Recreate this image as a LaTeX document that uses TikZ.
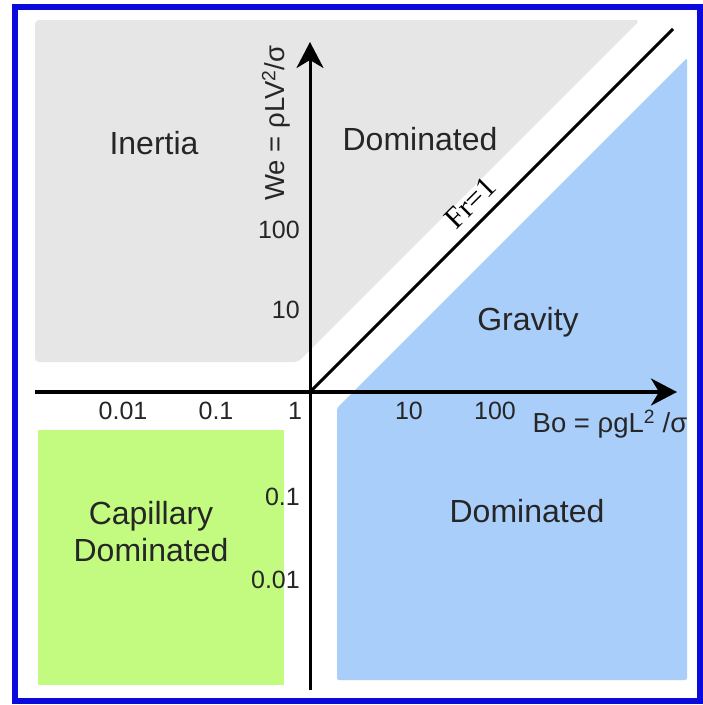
\documentclass[tikz,border=0pt]{standalone}
\usepackage{fontspec}
\setmainfont{Liberation Sans}
\newfontfamily\frfont{Liberation Serif}
\usetikzlibrary{arrows.meta}
\definecolor{frameblue}{HTML}{0A0ADC}
\definecolor{inertgray}{HTML}{E6E6E6}
\definecolor{gravblue}{HTML}{A9CEFA}
\definecolor{capgreen}{HTML}{C3FB80}
\definecolor{labelgray}{HTML}{262626}
\tikzstyle{regionlabel} = [text=labelgray, font=\fontsize{32}{37}\selectfont, align=center, inner sep=0pt]
\tikzstyle{ticklabel} = [text=labelgray, font=\fontsize{25}{30}\selectfont, inner sep=0pt]
\tikzstyle{axislabel} = [text=labelgray, font=\fontsize{27.5}{32}\selectfont, inner sep=0pt]
\tikzstyle{axisline} = [line width=3.5pt, -{Stealth[length=26pt, width=27pt, inset=8pt]}]

\begin{document}
\begin{tikzpicture}[x=1pt, y=-1pt]
  \useasboundingbox (0,0) rectangle (703,705);
  \fill[white] (0,0) rectangle (703,705);

  % Regions
  \fill[inertgray, rounded corners=4pt] (35,20) -- (640,20) -- (298,362) -- (35,362) -- cycle;
  \fill[gravblue, rounded corners=2pt] (337,680) -- (687,680) -- (687,58) -- (352,393) -- (337,408) -- cycle;
  \fill[capgreen] (38,430) rectangle (284,685);

  % Frame
  \draw[frameblue, line width=6pt] (15,6.5) rectangle (700,701);

  % Axes
  \coordinate (origin) at (310,392);
  \coordinate (xstart) at (35,392);
  \coordinate (xend) at (677,392);
  \coordinate (ystart) at (310,690);
  \coordinate (yend) at (310,42);
  \coordinate (frtop) at (673,29);
  \draw[axisline] (xstart) -- (xend);
  \draw[axisline, line width=3pt] (ystart) -- (yend);
  \draw[line width=3pt] (origin) -- (frtop);

  % Region names
  \node (inertia) [regionlabel] at (154,143) {Inertia};
  \node (domtop) [regionlabel] at (420,139) {Dominated};
  \node (gravity) [regionlabel] at (528,322) {Gravity};
  \node (domlow) [regionlabel] at (527,511) {Dominated};
  \node (capillary) [regionlabel] at (151,532) {Capillary\\Dominated};

  % Axis names
  \node (welabel) [axislabel, rotate=90] at (276,123) {We = ρLV\textsuperscript{2}/σ};
  \node (bolabel) [axislabel] at (610,424) {Bo = ρgL\textsuperscript{2} /σ};
  \node (frlabel) [text=black, font=\frfont\fontsize{30}{36}\selectfont, rotate=45, inner sep=0pt] at (470,203) {Fr=1};

  % Ticks
  \node (y100) [ticklabel, anchor=east] at (300,230) {100};
  \node (y10) [ticklabel, anchor=east] at (300,310) {10};
  \node (x001) [ticklabel] at (123,411) {0.01};
  \node (x01) [ticklabel] at (216,411) {0.1};
  \node (x1) [ticklabel] at (295,411) {1};
  \node (x10) [ticklabel] at (409,411) {10};
  \node (x100) [ticklabel] at (495,411) {100};
  \node (ym01) [ticklabel, anchor=east] at (300,497) {0.1};
  \node (ym001) [ticklabel, anchor=east] at (300,580) {0.01};
\end{tikzpicture}
\end{document}
